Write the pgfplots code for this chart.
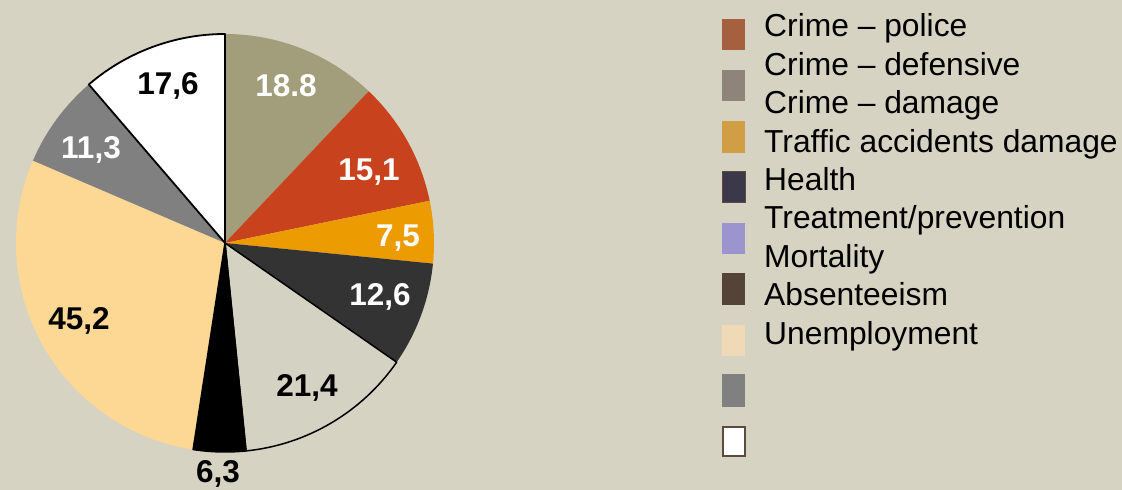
\documentclass[border=0pt]{standalone}
\usepackage{pgfplots}
\pgfplotsset{compat=1.18}
\usepackage{fontspec}
\setmainfont{Liberation Sans}

\definecolor{bg}{HTML}{D7D3C3}
\definecolor{cA}{HTML}{A29E7B}
\definecolor{cB}{HTML}{C9421E}
\definecolor{cC}{HTML}{EC9C00}
\definecolor{cD}{HTML}{333333}
\definecolor{cE}{HTML}{D3D2C3}
\definecolor{cF}{HTML}{000000}
\definecolor{cG}{HTML}{FDD895}
\definecolor{cH}{HTML}{808080}
\definecolor{cI}{HTML}{FFFFFF}
\definecolor{lA}{HTML}{A5613F}
\definecolor{lB}{HTML}{8E847A}
\definecolor{lC}{HTML}{D29E45}
\definecolor{lD}{HTML}{3A3849}
\definecolor{lE}{HTML}{9C94CF}
\definecolor{lF}{HTML}{564337}
\definecolor{lG}{HTML}{EFD9B7}
\definecolor{lH}{HTML}{808080}
\definecolor{lbord}{HTML}{5B4A3E}

\tikzset{lab/.style={anchor=base, inner sep=0pt, font=\bfseries\fontsize{31.5}{38}\selectfont},
         leg/.style={anchor=base west, inner sep=0pt, font=\fontsize{31.8}{38}\selectfont}}

% slice values (clockwise from 12 o'clock)
\def\vA{18.8}\def\vB{15.1}\def\vC{7.5}\def\vD{12.6}\def\vE{21.4}
\def\vF{6.3}\def\vG{45.2}\def\vH{11.3}\def\vI{17.6}
\pgfmathsetmacro\total{\vA+\vB+\vC+\vD+\vE+\vF+\vG+\vH+\vI}
\pgfmathsetmacro\aA{90}
\pgfmathsetmacro\aB{90-360*((\vA)/\total)}
\pgfmathsetmacro\aC{90-360*((\vA+\vB)/\total)}
\pgfmathsetmacro\aD{90-360*((\vA+\vB+\vC)/\total)}
\pgfmathsetmacro\aE{90-360*((\vA+\vB+\vC+\vD)/\total)}
\pgfmathsetmacro\aF{90-360*((\vA+\vB+\vC+\vD+\vE)/\total)}
\pgfmathsetmacro\aG{90-360*((\vA+\vB+\vC+\vD+\vE+\vF)/\total)}
\pgfmathsetmacro\aH{90-360*((\vA+\vB+\vC+\vD+\vE+\vF+\vG)/\total)}
\pgfmathsetmacro\aI{90-360*((\vA+\vB+\vC+\vD+\vE+\vF+\vG+\vH)/\total)}
\pgfmathsetmacro\aJ{90-360}

\newcommand\slicepath[2]{(axis cs:225,247) -- ++(#1:209pt) arc[start angle=#1, end angle=#2, radius=209pt] -- cycle}

\begin{document}
\begin{tikzpicture}
\begin{axis}[
  at={(0,0)}, anchor=south west,
  hide axis, scale only axis, clip=false,
  width=1122pt, height=490pt,
  xmin=0, xmax=1122, ymin=0, ymax=490,
]
\fill[bg] (axis cs:0,0) rectangle (axis cs:1122,490);
% pie slices
\fill[cA] \slicepath{\aA}{\aB};
\fill[cB] \slicepath{\aB}{\aC};
\fill[cC] \slicepath{\aC}{\aD};
\fill[cD] \slicepath{\aD}{\aE};
\fill[cG] \slicepath{\aG}{\aH};
\fill[cH] \slicepath{\aH}{\aI};
\filldraw[fill=cE, draw=black, line width=1.5pt, line join=round] \slicepath{\aE}{\aF};
\filldraw[fill=cF, draw=black, line width=1.5pt, line join=round] \slicepath{\aF}{\aG};
\filldraw[fill=cI, draw=black, line width=1.8pt, line join=round] \slicepath{\aI}{\aJ};
% slice labels
\node[lab, text=white] at (axis cs:286,393) {18.8};
\node[lab, text=white] at (axis cs:369,309) {15,1};
\node[lab, text=white] at (axis cs:398,243) {7,5};
\node[lab, text=white] at (axis cs:380,184) {12,6};
\node[lab, text=black] at (axis cs:307,93) {21,4};
\node[lab, text=black] at (axis cs:218,7) {6,3};
\node[lab, text=black] at (axis cs:79,160) {45,2};
\node[lab, text=white] at (axis cs:91,331) {11,3};
\node[lab, text=black] at (axis cs:168,395) {17,6};
% legend
\fill[lA] (axis cs:722,440) rectangle (axis cs:745,471);
\fill[lB] (axis cs:722,389) rectangle (axis cs:745,420);
\fill[lC] (axis cs:722,337) rectangle (axis cs:745,369);
\filldraw[fill=lD, draw=lbord, line width=1pt] (axis cs:722.5,287.5) rectangle (axis cs:745,318);
\fill[lE] (axis cs:722,236) rectangle (axis cs:745,267);
\fill[lF] (axis cs:722,185) rectangle (axis cs:745,217);
\fill[lG] (axis cs:722,134) rectangle (axis cs:745,165);
\fill[lH] (axis cs:722,83) rectangle (axis cs:745,116);
\filldraw[fill=white, draw=lbord, line width=1.5pt] (axis cs:723,34) rectangle (axis cs:745,63);
\node[leg] at (axis cs:764,453) {Crime -- police};
\node[leg] at (axis cs:764,414.6) {Crime -- defensive};
\node[leg] at (axis cs:764,376.2) {Crime -- damage};
\node[leg] at (axis cs:764,337.8) {Traffic accidents damage};
\node[leg] at (axis cs:764,299.4) {Health};
\node[leg] at (axis cs:764,261) {Treatment/prevention};
\node[leg] at (axis cs:764,222.6) {Mortality};
\node[leg] at (axis cs:764,184.2) {Absenteeism};
\node[leg] at (axis cs:764,145.8) {Unemployment};
\end{axis}
\pgfresetboundingbox
\path (0,0) rectangle (1122pt,490pt);
\end{tikzpicture}
\end{document}
